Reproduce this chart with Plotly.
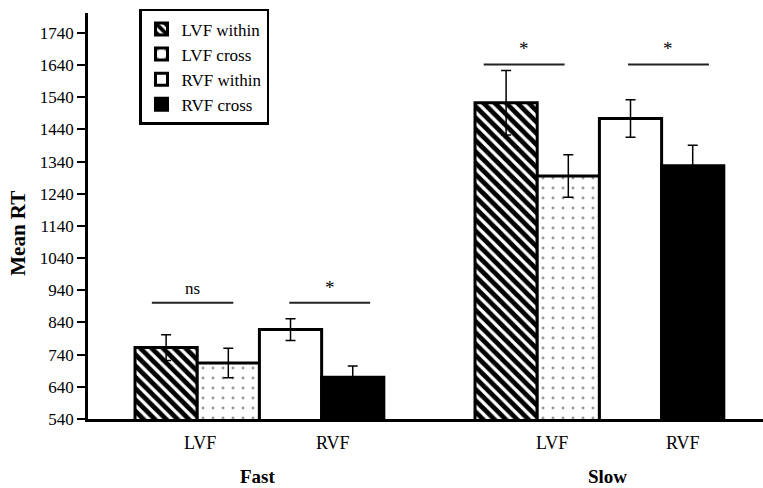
import plotly.graph_objects as go

# Mean reaction times by speed group and visual-field condition
speeds = ["Fast", "Slow"]
conditions = ["LVF within", "LVF cross", "RVF within", "RVF cross"]
field_labels = ["LVF", "RVF"]
mean_rt = {
    "LVF within": [762, 1523],
    "LVF cross": [714, 1295],
    "RVF within": [818, 1474],
    "RVF cross": [670, 1327],
}
sem_rt = {
    "LVF within": [40, 100],
    "LVF cross": [46, 66],
    "RVF within": [34, 58],
    "RVF cross": [35, 64],
}
y_ticks = list(range(540, 1741, 100))

# significance brackets: (speed index, first bar, second bar, label, height)
brackets = [
    (0, 0, 1, "ns", 901),
    (0, 2, 3, "*", 901),
    (1, 0, 1, "*", 1642),
    (1, 2, 3, "*", 1642),
]

FONT = "Liberation Serif"
group_start = [0.0, 5.466]          # x of first bar centre in each speed group
bracket_shift = [(-0.23, 0.08), (-0.02, 0.28), (-0.36, -0.06), (-0.04, 0.26)]
field_label_x = [(0.55, 2.68), (6.20, 8.31)]
speed_label_x = [1.48, 7.10]

styles = {
    "LVF within": dict(color="white", pattern=dict(shape="\\", fgcolor="black", bgcolor="white",
                                                     size=8, solidity=0.6, fgopacity=1)),
    "LVF cross": dict(color="white", pattern=dict(shape=".", fgcolor="#333", bgcolor="white",
                                                    size=10, solidity=0.07)),
    "RVF within": dict(color="white"),
    "RVF cross": dict(color="black"),
}

fig = go.Figure()
for i, cond in enumerate(conditions):
    xs = [group_start[g] + i for g in range(len(speeds))]
    fig.add_trace(go.Bar(
        x=xs, y=mean_rt[cond], name=cond, width=1.0,
        marker=dict(line=dict(color="black", width=3), **styles[cond]),
        error_y=dict(type="data", array=sem_rt[cond], color="black",
                     thickness=1.5, width=5),
    ))

shapes = []
annotations = []
for (g, a, b, label, h), (s0, s1) in zip(brackets, bracket_shift):
    x0 = group_start[g] + a + s0
    x1 = group_start[g] + b + s1
    shapes.append(dict(type="line", xref="x", yref="y", x0=x0, x1=x1, y0=h, y1=h,
                       line=dict(color="#222", width=2)))
    annotations.append(dict(x=(x0 + x1) / 2, y=h, xref="x", yref="y", text=label,
                            showarrow=False, xanchor="center", yanchor="bottom", yshift=3,
                            font=dict(family=FONT, size=17 if label == "ns" else 19,
                                      color="black")))

for g, speed in enumerate(speeds):
    for lab, xv in zip(field_labels, field_label_x[g]):
        annotations.append(dict(x=xv, y=0, xref="x", yref="paper", text=lab,
                                showarrow=False, xanchor="center", yanchor="middle",
                                yshift=-24,
                                font=dict(family=FONT, size=18, color="black")))
    annotations.append(dict(x=speed_label_x[g], y=0, xref="x", yref="paper",
                            text="<b>%s</b>" % speed, showarrow=False,
                            xanchor="center", yanchor="middle", yshift=-57,
                            font=dict(family=FONT, size=19, color="black")))

annotations.append(dict(x=-0.103, y=0.4575, xref="paper", yref="paper",
                        text="<b>Mean RT</b>", textangle=-90, showarrow=False,
                        xanchor="center", yanchor="middle",
                        font=dict(family=FONT, size=21, color="black")))

fig.update_layout(
    width=763, height=488,
    margin=dict(l=88, r=0, t=13, b=69),
    paper_bgcolor="white", plot_bgcolor="white",
    barmode="overlay",
    showlegend=True,
    legend=dict(x=0.0756, y=1.01, xanchor="left", yanchor="top",
                bordercolor="black", borderwidth=2.5, bgcolor="white",
                font=dict(family=FONT, size=17, color="black"),
                tracegroupgap=0, itemwidth=30),
    shapes=shapes,
    annotations=annotations,
    font=dict(family=FONT, color="black"),
)
fig.update_xaxes(range=[-1.256, 9.596], showgrid=False, zeroline=False,
                 showticklabels=False, ticks="", showline=True,
                 linecolor="black", linewidth=2.5)
fig.update_yaxes(range=[540, 1802], tickvals=y_ticks, showgrid=False, zeroline=False,
                 ticks="outside", ticklen=8, tickwidth=2, tickcolor="black",
                 showline=True, linecolor="black", linewidth=2.5,
                 tickfont=dict(family=FONT, size=17, color="black"))

fig.write_html("out.html")
